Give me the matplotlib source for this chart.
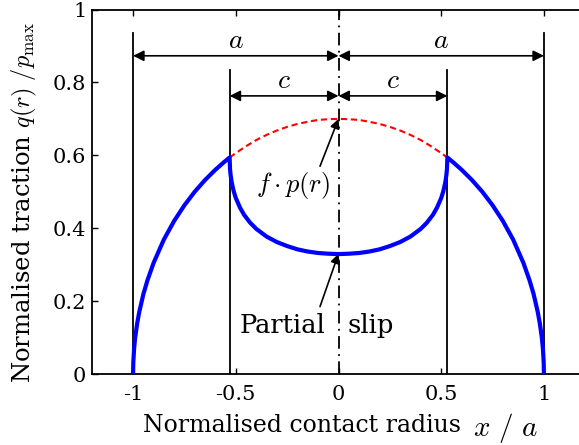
import matplotlib
matplotlib.use("Agg")
import matplotlib.pyplot as plt

plt.rcParams["font.family"] = ["DejaVu Serif"]
plt.rcParams["mathtext.fontset"] = "cm"

# Contact geometry (normalised by contact radius a)
a_half = 1.0
c_half = 0.53

# Partial-slip traction q(r)/p_max across the contact
x_slip = [-1.0, -0.999, -0.995, -0.99, -0.98, -0.97, -0.95, -0.93, -0.9, -0.85,
          -0.8, -0.75, -0.7, -0.65, -0.6, -0.56, -0.53,
          -0.528, -0.525, -0.52, -0.51, -0.5, -0.48, -0.46, -0.43, -0.4,
          -0.35, -0.3, -0.25, -0.2, -0.15, -0.1, -0.05, 0.0,
          0.05, 0.1, 0.15, 0.2, 0.25, 0.3, 0.35,
          0.4, 0.43, 0.46, 0.48, 0.5, 0.51, 0.52, 0.525, 0.528,
          0.53, 0.56, 0.6, 0.65, 0.7, 0.75, 0.8, 0.85, 0.9, 0.93, 0.95,
          0.97, 0.98, 0.99, 0.995, 0.999, 1.0]
q_slip = [0.0, 0.031, 0.070, 0.099, 0.139, 0.170, 0.219, 0.257, 0.305, 0.369,
          0.420, 0.463, 0.500, 0.532, 0.560, 0.580, 0.594,
          0.562, 0.545, 0.526, 0.501, 0.483, 0.457, 0.437, 0.415, 0.398,
          0.377, 0.362, 0.351, 0.342, 0.336, 0.332, 0.330, 0.329,
          0.330, 0.332, 0.336, 0.342, 0.351, 0.362, 0.377,
          0.398, 0.415, 0.437, 0.457, 0.483, 0.501, 0.526, 0.545, 0.562,
          0.594, 0.580, 0.560, 0.532, 0.500, 0.463, 0.420, 0.369, 0.305, 0.257,
          0.219, 0.170, 0.139, 0.099, 0.070, 0.031, 0.0]

# Limiting traction f*p(r) over the stick zone
x_limit = [-0.53, -0.5, -0.45, -0.4, -0.35, -0.3, -0.25, -0.2, -0.15, -0.1, -0.05, 0.0,
           0.05, 0.1, 0.15, 0.2, 0.25, 0.3, 0.35, 0.4, 0.45, 0.5, 0.53]
q_limit = [0.594, 0.606, 0.625, 0.642, 0.656, 0.668, 0.678, 0.686, 0.692, 0.697, 0.699, 0.700,
           0.699, 0.697, 0.692, 0.686, 0.678, 0.668, 0.656, 0.642, 0.625, 0.606, 0.594]

x_ticks = [-1, -0.5, 0, 0.5, 1]
x_ticklabels = ["-1", "-0.5", "0", "0.5", "1"]
y_ticks = [0, 0.2, 0.4, 0.6, 0.8, 1]
y_ticklabels = ["0", "0.2", "0.4", "0.6", "0.8", "1"]

fig = plt.figure(figsize=(5.79, 4.45), dpi=100)
ax = fig.add_axes([92 / 579, 71 / 445, 493 / 579, 364.5 / 445])

ax.plot(x_limit, q_limit, color="red", lw=1.5, ls=(0, (3.0, 1.8)), zorder=3)
ax.plot(x_slip, q_slip, color="blue", lw=3.0, zorder=4, solid_capstyle="butt")

# Boundary markers of contact (a) and stick zone (c)
for xv in (-a_half, a_half):
    ax.plot([xv, xv], [0, 0.935], color="black", lw=1.3, zorder=2)
for xv in (-c_half, c_half):
    ax.plot([xv, xv], [0, 0.835], color="black", lw=1.3, zorder=2)
ax.plot([0, 0], [0, 1], color="black", lw=1.3, ls=(0, (7, 3, 1, 3)), zorder=2)

arrow_kw = dict(arrowstyle="<|-|>", color="black", lw=1.2,
                mutation_scale=16, shrinkA=0, shrinkB=0)
ax.annotate("", xy=(-a_half, 0.873), xytext=(0, 0.873), arrowprops=arrow_kw)
ax.annotate("", xy=(a_half, 0.873), xytext=(0, 0.873), arrowprops=arrow_kw)
ax.annotate("", xy=(-c_half, 0.763), xytext=(0, 0.763), arrowprops=arrow_kw)
ax.annotate("", xy=(c_half, 0.763), xytext=(0, 0.763), arrowprops=arrow_kw)

ax.text(-0.5, 0.915, r"$a$", ha="center", va="center", fontsize=20)
ax.text(0.5, 0.915, r"$a$", ha="center", va="center", fontsize=20)
ax.text(-0.265, 0.805, r"$c$", ha="center", va="center", fontsize=20)
ax.text(0.265, 0.805, r"$c$", ha="center", va="center", fontsize=20)

pointer_kw = dict(arrowstyle="-|>", color="black", lw=1.2,
                  mutation_scale=14, shrinkA=0, shrinkB=0)
ax.annotate("", xy=(0, 0.700), xytext=(-0.09, 0.57), arrowprops=pointer_kw)
ax.text(-0.22, 0.518, r"$f\cdot p(r)$", ha="center", va="center", fontsize=19)

ax.annotate("", xy=(0, 0.330), xytext=(-0.09, 0.185), arrowprops=pointer_kw)
ax.text(-0.066, 0.132, "Partial", ha="right", va="center", fontsize=18.5)
ax.text(0.046, 0.132, "slip", ha="left", va="center", fontsize=18.5)

ax.set_xlim(-1.2, 1.2)
ax.set_ylim(0, 1)
ax.set_xticks(x_ticks)
ax.set_xticklabels(x_ticklabels)
ax.set_yticks(y_ticks)
ax.set_yticklabels(y_ticklabels)
ax.tick_params(direction="in", length=4, width=1, labelsize=15,
               top=True, bottom=True, left=True, right=False)
ax.tick_params(axis="x", pad=8)
ax.tick_params(axis="y", pad=4)
for sp in ax.spines.values():
    sp.set_linewidth(1.3)

# Axis titles: words in the text face, symbols in math italics
fig.text(302 / 579, 1 - 425 / 445, "Normalised contact radius",
         ha="center", va="center", fontsize=17)
fig.text(505 / 579, 1 - 428 / 445, r"$x\ /\ a$",
         ha="center", va="center", fontsize=21)
fig.text(24 / 579, 1 - 203 / 445, r"Normalised traction $q(r)\ /p_{\max}$",
         ha="center", va="center", rotation=90, fontsize=17.5)

fig.savefig("out.png", dpi=100)
